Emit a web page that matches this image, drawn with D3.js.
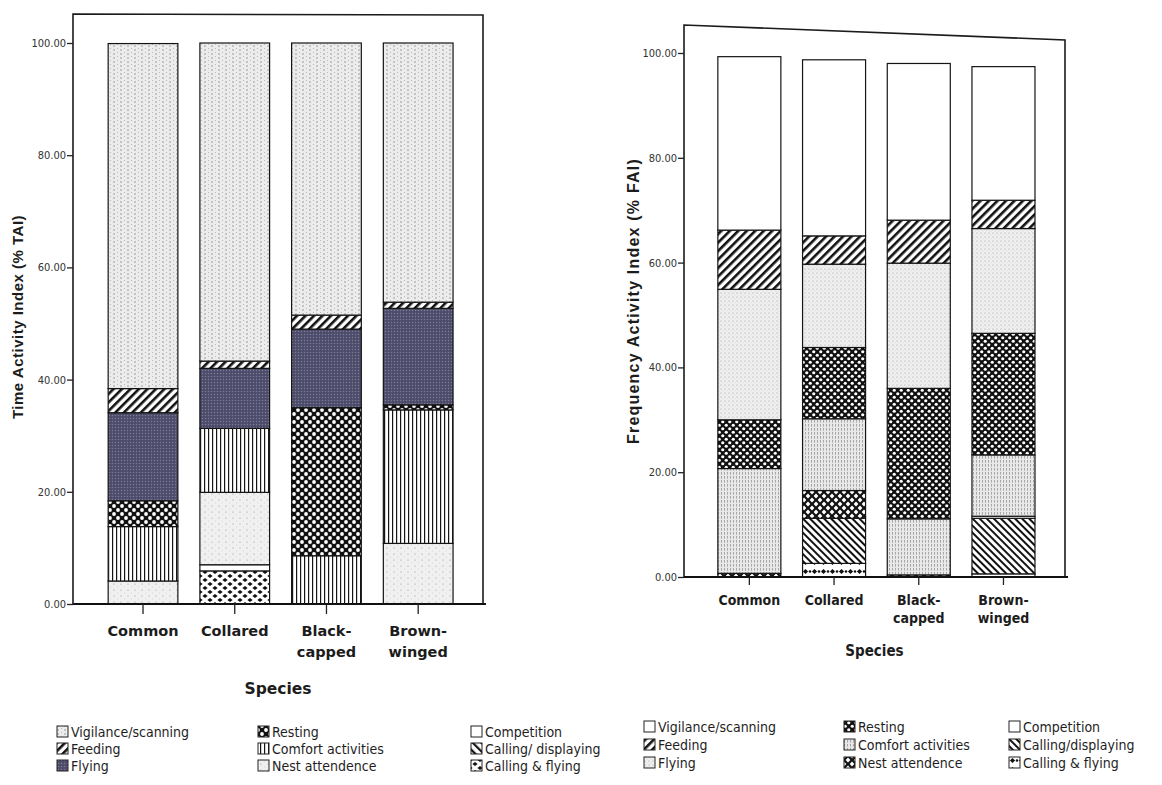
<!DOCTYPE html>
<html>
<head>
<meta charset="utf-8">
<script src="https://cdn.jsdelivr.net/npm/d3@7"></script>
<style>
  body { margin: 0; background: #fff; }
  svg { display: block; }
  .tick-lbl { font-family: "DejaVu Sans Condensed", "DejaVu Sans", sans-serif; font-size: 11px; fill: #333; }
  .leg-lbl { font-family: "Liberation Sans Narrow", "DejaVu Sans Condensed", sans-serif; font-size: 14px; fill: #1e1e1e; }
</style>
</head>
<body>
<svg id="fig" width="1162" height="785"></svg>
<script>
// ---------------- data ----------------
const species = ["Common", "Collared", "Black-capped", "Brown-winged"];
const speciesLines = [["Common"], ["Collared"], ["Black-", "capped"], ["Brown-", "winged"]];

// activity keys, in legend order
const activityKeys = ["vig", "feed", "fly", "rest", "comf", "nest", "comp", "calld", "callf"];
const legendTAI = ["Vigilance/scanning", "Feeding", "Flying", "Resting", "Comfort activities",
                   "Nest attendence", "Competition", "Calling/ displaying", "Calling & flying"];
const legendFAI = ["Vigilance/scanning", "Feeding", "Flying", "Resting", "Comfort activities",
                   "Nest attendence", "Competition", "Calling/displaying", "Calling & flying"];

// Time Activity Index (% TAI): Common, Collared, Black-capped, Brown-winged
const taiVigilance   = [61.5, 56.7, 48.5, 46.2];
const taiFeeding     = [4.3, 1.3, 2.5, 1.1];
const taiFlying      = [15.7, 10.7, 14.0, 17.2];
const taiResting     = [4.6, 0.0, 26.4, 0.9];
const taiComfort     = [9.7, 11.4, 8.6, 23.8];
const taiNest        = [4.1, 12.9, 0.0, 10.8];
const taiCompetition = [0.0, 1.1, 0.0, 0.0];
const taiCallDisplay = [0.0, 0.0, 0.0, 0.0];
const taiCallFly     = [0.0, 5.9, 0.0, 0.0];

// Frequency Activity Index (% FAI): Common, Collared, Black-capped, Brown-winged
const faiVigilance   = [33.1, 33.6, 29.9, 25.5];
const faiFeeding     = [11.3, 5.4, 8.2, 5.4];
const faiFlying      = [24.9, 15.9, 23.9, 20.0];
const faiResting     = [9.3, 13.6, 24.9, 23.2];
const faiComfort     = [20.0, 13.7, 10.7, 11.7];
const faiNest        = [0.7, 5.3, 0.4, 0.0];
const faiCompetition = [0.0, 0.0, 0.0, 0.4];
const faiCallDisplay = [0.0, 8.6, 0.0, 10.6];
const faiCallFly     = [0.0, 2.6, 0.0, 0.6];

const yTicks = [0, 20, 40, 60, 80, 100];

// ---------------- helpers ----------------
function rowsFrom(series) {
  return species.map((s, i) => {
    const r = { species: s };
    activityKeys.forEach((k, j) => { r[k] = series[j][i]; });
    return r;
  });
}
const taiRows = rowsFrom([taiVigilance, taiFeeding, taiFlying, taiResting, taiComfort,
                          taiNest, taiCompetition, taiCallDisplay, taiCallFly]);
const faiRows = rowsFrom([faiVigilance, faiFeeding, faiFlying, faiResting, faiComfort,
                          faiNest, faiCompetition, faiCallDisplay, faiCallFly]);

// stacked from the bottom in reverse legend order
const stackOrder = activityKeys.slice().reverse();

const svg = d3.select("#fig");
const defs = svg.append("defs");

function pattern(id, w, h, draw, transform) {
  const p = defs.append("pattern").attr("id", id)
    .attr("patternUnits", "userSpaceOnUse").attr("width", w).attr("height", h);
  if (transform) p.attr("patternTransform", transform);
  draw(p);
}
const bg = (p, w, h, c) => p.append("rect").attr("width", w).attr("height", h).attr("fill", c);
const dot = (p, x, y, r, c) => p.append("circle").attr("cx", x).attr("cy", y).attr("r", r).attr("fill", c);
const diamond = (p, x, y, rx, ry, c) => p.append("path")
  .attr("d", `M${x - rx},${y}L${x},${y - ry}L${x + rx},${y}L${x},${y + ry}Z`).attr("fill", c);

// ---- fills for the TAI panel ----
pattern("L-vig", 7, 4, p => { bg(p, 7, 4, "#ececec"); dot(p, 2, 2, 0.65, "#7a7a7a"); dot(p, 5.5, 0.5, 0.5, "#aaaaaa"); });
pattern("L-feed", 6, 6, p => { bg(p, 6, 6, "#fff"); p.append("rect").attr("width", 2.6).attr("height", 6).attr("fill", "#111"); }, "rotate(45)");
pattern("L-fly", 3, 3, p => { bg(p, 3, 3, "#4c4c6a"); dot(p, 1.5, 1.5, 0.75, "#7c7c98"); });
pattern("L-rest", 8, 8, p => { bg(p, 8, 8, "#111"); dot(p, 2, 2, 1.9, "#fff"); dot(p, 6, 6, 1.9, "#fff"); });
pattern("L-comf", 4, 4, p => { bg(p, 4, 4, "#fff"); p.append("rect").attr("width", 1.2).attr("height", 4).attr("fill", "#151515"); });
pattern("L-nest", 7, 6, p => { bg(p, 7, 6, "#f0f0f0"); dot(p, 2, 2, 0.6, "#959595"); dot(p, 5.5, 5, 0.45, "#bdbdbd"); });
pattern("L-comp", 4, 4, p => { bg(p, 4, 4, "#fff"); });
pattern("L-calld", 6, 6, p => { bg(p, 6, 6, "#fff"); p.append("rect").attr("width", 2.2).attr("height", 6).attr("fill", "#111"); }, "rotate(-45)");
pattern("L-callf", 10, 8, p => {
  bg(p, 10, 8, "#fff");
  [[0, 0], [10, 0], [5, 4], [0, 8], [10, 8]].forEach(([x, y]) => diamond(p, x, y, 2.6, 2.1, "#111"));
});

// ---- fills for the FAI panel ----
pattern("R-vig", 4, 4, p => { bg(p, 4, 4, "#fff"); });
pattern("R-feed", 6, 6, p => { bg(p, 6, 6, "#fff"); p.append("rect").attr("width", 2.6).attr("height", 6).attr("fill", "#111"); }, "rotate(45)");
pattern("R-fly", 4, 4, p => { bg(p, 4, 4, "#efefef"); dot(p, 1, 1, 0.5, "#8c8c8c"); dot(p, 3, 3, 0.45, "#bdbdbd"); });
pattern("R-rest", 7, 7, p => { bg(p, 7, 7, "#111"); dot(p, 1.75, 1.75, 1.6, "#fff"); dot(p, 5.25, 5.25, 1.6, "#fff"); });
pattern("R-comf", 3, 4, p => { bg(p, 3, 4, "#e8e8e8"); p.append("rect").attr("x", 1).attr("width", 0.7).attr("height", 2.6).attr("fill", "#8a8a8a"); });
pattern("R-nest", 8, 8, p => {
  bg(p, 8, 8, "#111");
  [[0, 0], [8, 0], [4, 4], [0, 8], [8, 8]].forEach(([x, y]) => diamond(p, x, y, 2.4, 2.4, "#fff"));
});
pattern("R-comp", 4, 4, p => { bg(p, 4, 4, "#fff"); });
pattern("R-calld", 5, 5, p => { bg(p, 5, 5, "#fff"); p.append("rect").attr("width", 2).attr("height", 5).attr("fill", "#111"); }, "rotate(-45)");
pattern("R-callf", 9, 9, p => {
  bg(p, 9, 9, "#fff");
  diamond(p, 4.5, 4.5, 2.6, 2.6, "#111");
  dot(p, 0, 4.5, 1.3, "#111"); dot(p, 9, 4.5, 1.3, "#111");
});

// ---------------- panels ----------------
function drawPanel(cfg) {
  const g = svg.append("g");
  const x = d3.scaleBand().domain(species).range([cfg.x0, cfg.x1])
    .paddingInner(cfg.padIn).paddingOuter(cfg.padOut).align(cfg.align);
  const y = d3.scaleLinear().domain([0, 100]).range([cfg.yBase, cfg.y100]);

  // plot frame
  g.append("path")
    .attr("d", `M${cfg.x0},${cfg.yBase}L${cfg.x0},${cfg.topL}L${cfg.x1},${cfg.topR}L${cfg.x1},${cfg.yBase}`)
    .attr("fill", "none").attr("stroke", "#1b1b1b").attr("stroke-width", 1.6);

  // stacked bars
  const stacked = d3.stack().keys(stackOrder)(cfg.rows);
  stacked.forEach(layer => {
    g.append("g").selectAll("rect").data(layer.filter(d => d[1] - d[0] > 0)).join("rect")
      .attr("x", d => x(d.data.species))
      .attr("width", x.bandwidth())
      .attr("y", d => y(d[1]))
      .attr("height", d => y(d[0]) - y(d[1]))
      .attr("fill", `url(#${cfg.prefix}-${layer.key})`)
      .attr("stroke", "#141414").attr("stroke-width", 1.2);
  });

  // y axis
  const yAxis = d3.axisLeft(y).tickValues(yTicks).tickFormat(d3.format(".2f")).tickSize(6).tickPadding(1);
  const ya = g.append("g").attr("transform", `translate(${cfg.x0},0)`).call(yAxis);
  ya.select(".domain").remove();
  ya.selectAll(".tick line").attr("stroke", "#222").attr("stroke-width", 1.3);
  ya.selectAll(".tick text").attr("class", "tick-lbl").attr("font-family", null).attr("font-size", null);

  // x axis
  const xAxis = d3.axisBottom(x).tickSize(cfg.xTick).tickFormat("");
  const xa = g.append("g").attr("transform", `translate(0,${cfg.yBase})`).call(xAxis);
  xa.select(".domain").attr("d", `M${cfg.x0},0H${cfg.x1 + 3}`).attr("stroke", "#111").attr("stroke-width", 2.2);
  xa.selectAll(".tick line").attr("stroke", "#222").attr("stroke-width", 1.3);

  // category labels
  species.forEach((s, i) => {
    const t = g.append("text").attr("x", x(s) + x.bandwidth() / 2).attr("y", cfg.catY)
      .attr("text-anchor", "middle").attr("font-family", cfg.catFont)
      .attr("font-weight", "bold").attr("font-size", cfg.catSize).attr("fill", "#1c1c1c");
    speciesLines[i].forEach((ln, k) => t.append("tspan").attr("x", x(s) + x.bandwidth() / 2)
      .attr("dy", k === 0 ? 0 : cfg.catLead).text(ln));
  });

  // axis titles
  g.append("text").attr("x", (cfg.x0 + cfg.x1) / 2).attr("y", cfg.xTitleY)
    .attr("text-anchor", "middle").attr("font-family", cfg.catFont).attr("font-weight", "bold")
    .attr("font-size", cfg.xTitleSize).attr("fill", "#1c1c1c").text("Species");
  g.append("text").attr("transform", `translate(${cfg.yTitleX},${cfg.yTitleY}) rotate(-90)`)
    .attr("text-anchor", "middle").attr("font-family", "Liberation Sans, Arial, sans-serif")
    .attr("font-weight", "bold").attr("font-size", cfg.yTitleSize)
    .attr("letter-spacing", cfg.yTitleSpacing).attr("fill", "#1c1c1c").text(cfg.yTitle);

  // legend: three columns of three entries
  cfg.legend.forEach((label, i) => {
    const col = Math.floor(i / 3), row = i % 3;
    const lx = cfg.legX[col], ly = cfg.legY[row];
    g.append("rect").attr("x", lx).attr("y", ly - 6).attr("width", 11).attr("height", 11)
      .attr("fill", `url(#${cfg.prefix}-${activityKeys[i]})`)
      .attr("stroke", "#222").attr("stroke-width", 1);
    g.append("text").attr("class", "leg-lbl").attr("x", lx + 14).attr("y", ly + 4.5).text(label);
  });
}

drawPanel({
  prefix: "L", rows: taiRows,
  x0: 73, x1: 483, topL: 14, topR: 15, yBase: 604, y100: 43,
  padIn: 0.24, padOut: 0.355, align: 0.54, xTick: 10,
  catFont: "DejaVu Sans, Verdana, sans-serif", catSize: 14.5, catY: 636, catLead: 21,
  xTitleY: 694, xTitleSize: 15.5,
  yTitle: "Time Activity Index (% TAI)", yTitleX: 23, yTitleY: 317, yTitleSize: 15, yTitleSpacing: 0.5,
  legend: legendTAI, legX: [57, 258, 471], legY: [732, 749, 766]
});

drawPanel({
  prefix: "R", rows: faiRows,
  x0: 684, x1: 1065, topL: 25, topR: 40, yBase: 577, y100: 53,
  padIn: 0.256, padOut: 0.377, align: 0.53, xTick: 8,
  catFont: "DejaVu Sans Condensed, DejaVu Sans, sans-serif", catSize: 14, catY: 605, catLead: 18,
  xTitleY: 656, xTitleSize: 15,
  yTitle: "Frequency Activity Index (% FAI)", yTitleX: 639, yTitleY: 301, yTitleSize: 16, yTitleSpacing: 1.2,
  legend: legendFAI, legX: [644, 844, 1009], legY: [727, 745, 763]
});
</script>
</body>
</html>
